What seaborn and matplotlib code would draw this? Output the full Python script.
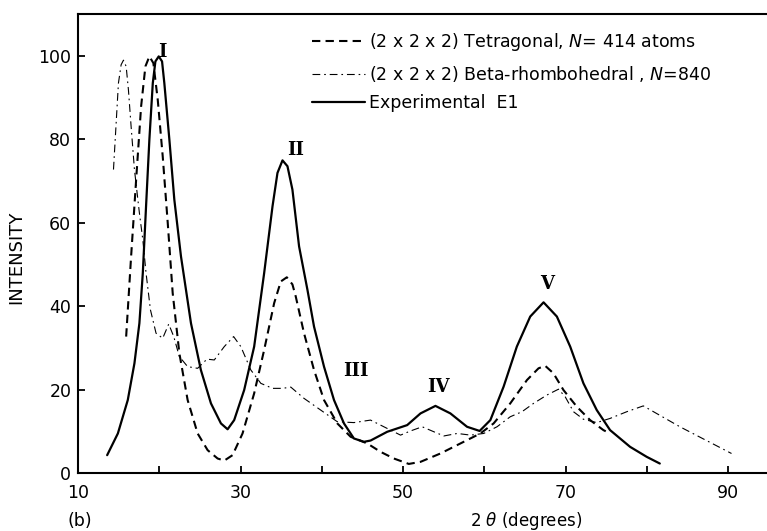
import matplotlib
matplotlib.use("Agg")
import matplotlib.pyplot as plt
import seaborn as sns
import pandas as pd

# Experimental E1 diffraction profile
exp_x = [13.56, 14.88, 16.1, 16.92, 17.53, 17.95, 18.35, 18.76, 19.18, 19.5, 19.91,
         20.32, 20.6, 21.22, 21.83, 22.65, 23.88, 25.1, 26.34, 27.57, 28.39, 29.2,
         30.43, 31.66, 32.89, 33.92, 34.53, 35.15, 35.76, 36.37, 37.19, 38.22, 39.03,
         40.26, 41.49, 42.72, 43.94, 45.17, 45.99, 48.04, 50.5, 52.14, 53.98, 55.82,
         57.87, 59.42, 60.74, 62.37, 64.0, 65.65, 67.29, 68.93, 70.57, 72.2, 73.84,
         75.48, 77.94, 79.99, 81.6]
exp_y = [4.3, 9.5, 17.5, 26.3, 35.9, 47.9, 63.9, 79.9, 93.4, 98.6, 99.8,
         98.6, 93.4, 79.9, 65.5, 51.9, 35.9, 24.7, 16.7, 11.9, 10.5, 12.7,
         19.9, 30.3, 47.9, 63.9, 71.9, 74.9, 73.5, 67.9, 54.3, 43.9, 35.1,
         25.5, 17.5, 11.9, 8.3, 7.5, 7.8, 9.9, 11.5, 14.3, 16.1, 14.3,
         11.1, 10.1, 12.7, 20.7, 30.3, 37.5, 40.9, 37.5, 30.3, 21.5, 15.1,
         10.3, 6.3, 3.9, 2.3]

# (2x2x2) tetragonal model, N = 414
tet_x = [15.9, 16.51, 17.13, 17.74, 18.27, 18.76, 19.25, 19.79, 20.4, 21.02, 21.63,
         22.45, 23.47, 24.7, 25.93, 27.16, 27.98, 29.0, 30.23, 31.66, 32.89, 34.12,
         34.94, 35.68, 36.37, 36.78, 37.8, 39.03, 40.26, 41.9, 43.54, 45.59, 47.22,
         48.86, 50.7, 52.14, 54.59, 57.05, 59.51, 61.14, 63.19, 65.25, 66.67, 67.49,
         68.51, 69.74, 71.39, 73.02, 74.66, 75.48]
tet_y = [32.7, 51.9, 70.3, 87.8, 97.4, 99.8, 98.2, 89.4, 75.9, 59.9, 43.1,
         28.7, 17.5, 9.5, 5.5, 3.5, 3.0, 4.3, 9.5, 19.1, 29.5, 40.7,
         45.9, 46.9, 45.2, 42.3, 33.5, 24.7, 17.5, 11.9, 8.7, 7.1, 5.1,
         3.5, 2.2, 2.7, 4.7, 7.1, 9.5, 11.9, 16.7, 22.3, 25.1, 25.7,
         23.9, 19.9, 15.9, 12.7, 10.3, 9.5]

# (2x2x2) beta-rhombohedral model, N = 840
beta_x = [14.34, 14.67, 14.95, 15.28, 15.57, 15.9, 16.18, 16.51, 16.92, 17.53, 17.95,
          18.35, 18.89, 19.58, 20.4, 21.14, 21.76, 22.45, 23.47, 24.7, 25.85, 26.75,
          27.98, 29.13, 30.02, 31.25, 32.48, 33.92, 35.15, 36.17, 37.8, 39.85, 41.9,
          43.94, 45.99, 47.22, 48.45, 49.68, 50.91, 52.35, 53.79, 55.02, 56.66, 58.3,
          59.92, 61.56, 63.19, 64.63, 66.06, 67.7, 69.13, 69.95, 70.98, 72.2, 73.84,
          75.48, 77.53, 79.57, 84.08, 90.43]
beta_y = [72.7, 83.9, 93.4, 97.8, 98.9, 97.4, 91.8, 83.0, 72.7, 62.3, 55.9,
          47.9, 39.1, 33.5, 32.3, 35.7, 32.7, 27.9, 25.5, 25.1, 27.3, 27.1,
          30.3, 32.7, 30.3, 24.7, 21.5, 20.3, 20.3, 20.6, 17.9, 15.1, 12.3,
          12.1, 12.7, 11.5, 10.3, 9.1, 10.1, 11.1, 9.9, 8.9, 9.5, 9.1,
          9.5, 11.1, 13.5, 14.7, 16.7, 18.7, 20.1, 18.3, 14.7, 12.9, 12.1,
          13.1, 14.7, 16.1, 11.1, 4.7]

series_labels = [
    r"(2 x 2 x 2) Tetragonal, $\mathit{N}$= 414 atoms",
    r"(2 x 2 x 2) Beta-rhombohedral , $\mathit{N}$=840",
    "Experimental  E1",
]

peak_names = ["I", "II", "III", "IV", "V"]
peak_x = [20.4, 36.8, 44.2, 54.4, 67.7]
peak_y = [100.8, 77.5, 24.5, 20.6, 45.3]

x_ticks = [10, 20, 30, 40, 50, 60, 70, 80, 90]
x_tick_labels = ["10", "", "30", "", "50", "", "70", "", "90"]
y_ticks = [0, 20, 40, 60, 80, 100]

sns.set_theme(style="ticks")
plt.rcParams["font.family"] = ["DejaVu Sans"]
plt.rcParams["mathtext.fontset"] = "dejavusans"
plt.rcParams["text.color"] = "black"
plt.rcParams["axes.labelcolor"] = "black"

fig = plt.figure(figsize=(7.67, 5.31), dpi=100)
ax = fig.add_axes([0.102, 0.109, 0.898, 0.865])

df_tet = pd.DataFrame({"x": tet_x, "y": tet_y})
df_beta = pd.DataFrame({"x": beta_x, "y": beta_y})
df_exp = pd.DataFrame({"x": exp_x, "y": exp_y})

sns.lineplot(data=df_tet, x="x", y="y", ax=ax, sort=False, estimator=None,
             color="black", linewidth=1.5, label=series_labels[0])
sns.lineplot(data=df_beta, x="x", y="y", ax=ax, sort=False, estimator=None,
             color="black", linewidth=0.8, label=series_labels[1])
sns.lineplot(data=df_exp, x="x", y="y", ax=ax, sort=False, estimator=None,
             color="black", linewidth=1.6, label=series_labels[2])

lines = ax.get_lines()
lines[0].set_dashes([4, 2.5])
lines[1].set_dashes([7, 3.5, 1.5, 3.5])
for ln in lines:
    ln.set_solid_joinstyle("round")
    ln.set_dash_joinstyle("round")

for name, px, py in zip(peak_names, peak_x, peak_y):
    ax.text(px, py, name, ha="center", va="center", fontsize=13,
            fontweight="bold", family="DejaVu Serif", color="black")

ax.set_xlim(10, 94.8)
ax.set_ylim(0, 110)
ax.set_xticks(x_ticks)
ax.set_xticklabels(x_tick_labels)
ax.set_yticks(y_ticks)
ax.tick_params(axis="both", direction="in", length=5, width=1.3, colors="black",
               labelsize=12.5)
ax.tick_params(axis="x", pad=8)
ax.tick_params(axis="y", pad=5)

for side in ["left", "bottom", "top"]:
    ax.spines[side].set_linewidth(1.5)
    ax.spines[side].set_color("black")
ax.spines["right"].set_visible(False)

ax.set_ylabel("INTENSITY", fontsize=13, color="black")
ax.set_xlabel(r"2 $\theta$ (degrees)", fontsize=12, color="black")
ax.xaxis.set_label_coords(0.65, -0.08)
ax.yaxis.set_label_coords(-0.077, 0.47)
fig.text(80 / 767, 1 - 521 / 531, "(b)", ha="center", va="center", fontsize=12.5,
         color="black")

leg = ax.legend(loc="upper left", bbox_to_anchor=(0.34, 0.962), frameon=False,
                fontsize=12.5, handlelength=3.05, handletextpad=0.2,
                labelspacing=0.6, borderaxespad=0, borderpad=0, labelcolor="black")

fig.savefig("out.png", dpi=100, facecolor="white")
